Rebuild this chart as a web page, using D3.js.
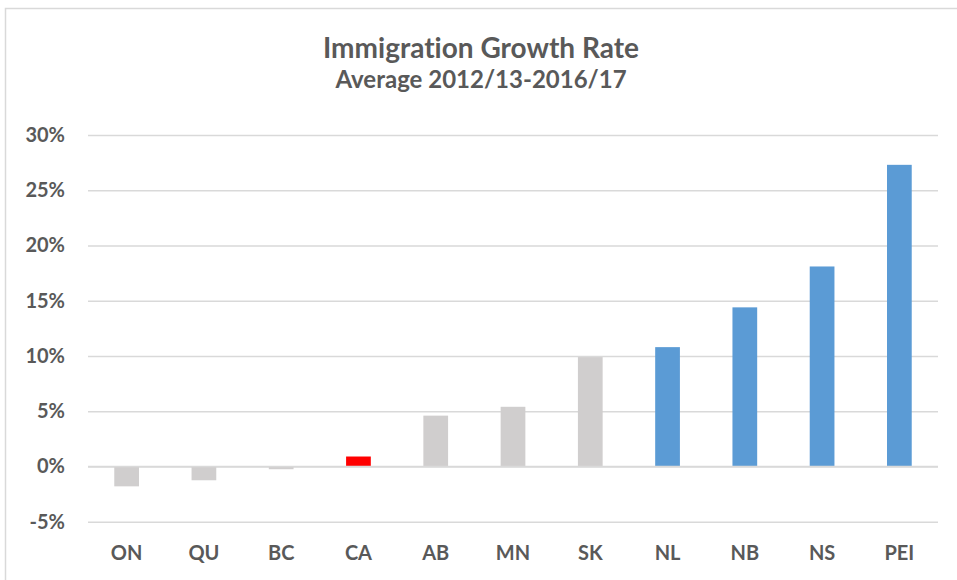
<!DOCTYPE html>
<html>
<head>
<meta charset="utf-8">
<script src="https://cdn.jsdelivr.net/npm/d3@7"></script>
<style>
  body { margin: 0; background: #fff; }
  svg { display: block; }
  text { font-family: Lato, "Open Sans", sans-serif; font-weight: bold; fill: #595959; font-variant-ligatures: none; }
</style>
</head>
<body>
<svg width="957" height="580"></svg>
<script>
// provinces, national average in the middle
const provinces = ["ON", "QU", "BC", "CA", "AB", "MN", "SK", "NL", "NB", "NS", "PEI"];
const growthRate = [-1.8, -1.25, -0.25, 0.9, 4.6, 5.4, 9.9, 10.8, 14.4, 18.1, 27.3];
const barGroup = ["grey", "grey", "grey", "canada", "grey", "grey", "grey", "atlantic", "atlantic", "atlantic", "atlantic"];
const yTicks = [-5, 0, 5, 10, 15, 20, 25, 30];

const svg = d3.select('svg');
const margin = {"left":88, "right":19, "top":135, "bottom":58};
const width = +svg.attr('width') - margin.left - margin.right;
const height = +svg.attr('height') - margin.top - margin.bottom;

const data = provinces.map((p, i) => ({name: p, value: growthRate[i], group: barGroup[i]}));

// chart frame
svg.append("rect")
    .attr("x", 5.5)
    .attr("y", 8.5)
    .attr("width", 980)
    .attr("height", 600)
    .attr("fill", "none")
    .attr("stroke", "#d9d9d9")
    .attr("stroke-width", 1.5);

// titles
svg.append("text")
    .attr("x", 481)
    .attr("y", 58)
    .attr("text-anchor", "middle")
    .style("font-size", "28px")
    .text("Immigration Growth Rate");

svg.append("text")
    .attr("x", 481)
    .attr("y", 88)
    .attr("text-anchor", "middle")
    .style("font-size", "24px")
    .text("Average 2012/13-2016/17");

const g = svg.append("g")
    .attr("transform", "translate(" + margin.left + "," + margin.top + ")");

const xScale = d3.scaleBand()
    .domain(provinces)
    .range([0, width])
    .paddingInner(0.68)
    .paddingOuter(0.34);

const yScale = d3.scaleLinear()
    .domain([-5, 30])
    .range([height - 0.3, 0]);

// horizontal gridlines with percent labels
const yAxis = g.append("g")
    .call(d3.axisLeft(yScale)
        .tickValues(yTicks)
        .tickSize(-width)
        .tickPadding(23)
        .tickFormat(d => d + "%"));
yAxis.select(".domain").remove();
yAxis.selectAll("line")
    .attr("stroke", "#d9d9d9")
    .attr("stroke-width", 1.5);
yAxis.selectAll("text")
    .style("font-size", "20px")
    .attr("fill", "#595959");

// bars
const colorScale = d3.scaleOrdinal()
    .domain(["grey", "canada", "atlantic"])
    .range(["#d0cece", "#ff0000", "#5b9bd5"]);

g.append("g")
    .selectAll("rect")
    .data(data)
    .enter()
    .append("rect")
    .attr("x", d => xScale(d.name))
    .attr("width", xScale.bandwidth())
    .attr("y", d => yScale(Math.max(0, d.value)))
    .attr("height", d => Math.abs(yScale(d.value) - yScale(0)))
    .attr("fill", d => colorScale(d.group));

// zero line drawn over the bars
g.append("line")
    .attr("x1", 0)
    .attr("x2", width)
    .attr("y1", yScale(0))
    .attr("y2", yScale(0))
    .attr("stroke", "#d9d9d9")
    .attr("stroke-width", 1.5);

// category labels along the bottom
const xAxis = g.append("g")
    .attr("transform", "translate(0," + height + ")")
    .call(d3.axisBottom(xScale).tickSize(0).tickPadding(24));
xAxis.select(".domain").remove();
xAxis.selectAll("text")
    .style("font-size", "20px")
    .attr("fill", "#595959");
</script>
</body>
</html>
